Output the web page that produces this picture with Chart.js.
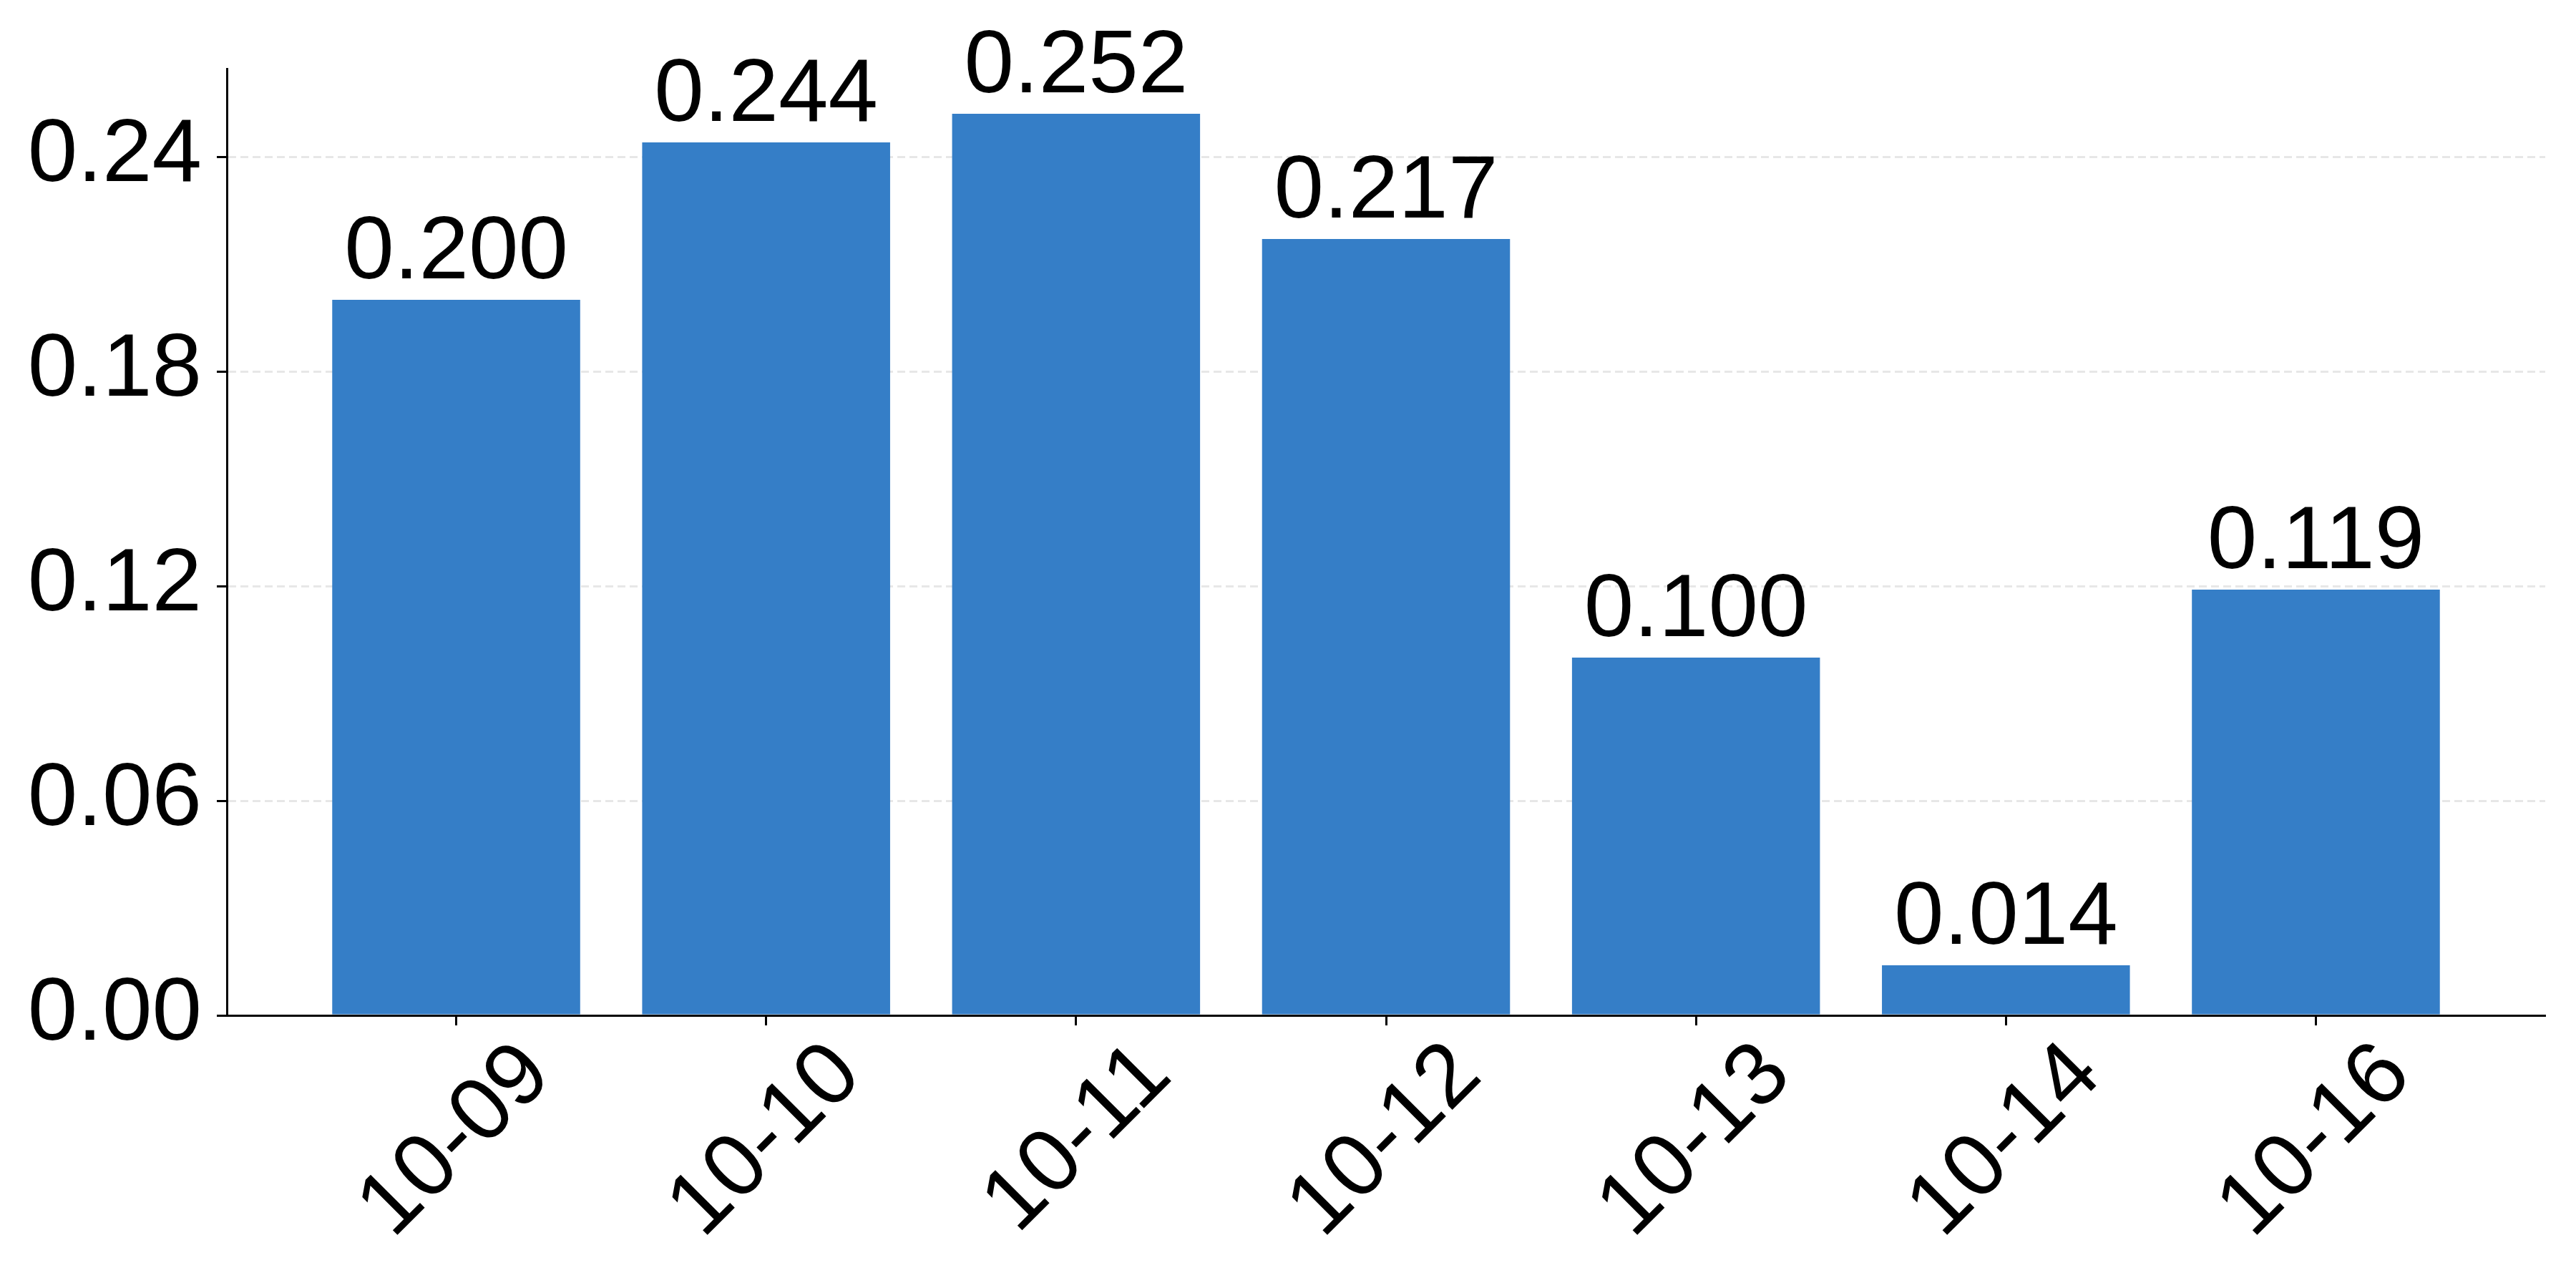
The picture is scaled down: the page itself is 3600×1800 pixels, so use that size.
<!DOCTYPE html>
<html>
<head>
<meta charset="utf-8">
<script src="https://cdn.jsdelivr.net/npm/chart.js@4/dist/chart.umd.min.js"></script>
<style>
html,body{margin:0;padding:0;background:#fff;}
#wrap{width:3600px;height:1800px;}
</style>
</head>
<body>
<div id="wrap"><canvas id="c" width="3600" height="1800"></canvas></div>
<script>
const categories = ['10-09','10-10','10-11','10-12','10-13','10-14','10-16'];
const values = [0.200, 0.244, 0.252, 0.217, 0.100, 0.014, 0.119];
const yTicks = [0, 0.06, 0.12, 0.18, 0.24];

Chart.defaults.font.family = "'Liberation Sans', Arial, sans-serif";
Chart.defaults.color = '#000';

const valueLabels = {
  id: 'valueLabels',
  afterDraw(chart) {
    const ctx = chart.ctx;
    const meta = chart.getDatasetMeta(0);
    ctx.save();
    ctx.font = "125px 'Liberation Sans', Arial, sans-serif";
    ctx.fillStyle = '#000';
    ctx.textAlign = 'center';
    ctx.textBaseline = 'alphabetic';
    meta.data.forEach((el, i) => {
      ctx.fillText(values[i].toFixed(3), el.x, el.y - 30);
    });
    ctx.restore();
  }
};

const yMax = Math.max(...values) * 1.05;
const xMin = -0.4 - 0.05 * (categories.length - 1 + 0.8);
const xMax = categories.length - 1 + 0.4 + 0.05 * (categories.length - 1 + 0.8);

new Chart(document.getElementById('c'), {
  type: 'bar',
  data: {
    datasets: [{
      data: values.map((v, i) => ({x: i, y: v})),
      backgroundColor: '#357EC7',
      borderWidth: 0,
      categoryPercentage: 1.0,
      barPercentage: 0.8
    }]
  },
  options: {
    responsive: false,
    animation: false,
    devicePixelRatio: 1,
    layout: {padding: {top: 96, right: 43, left: 0, bottom: 0}},
    plugins: {legend: {display: false}, tooltip: {enabled: false}},
    scales: {
      x: {
        type: 'linear',
        offset: false,
        min: xMin,
        max: xMax,
        afterBuildTicks: (s) => { s.ticks = categories.map((_, i) => ({value: i})); },
        afterFit: (s) => { s.height = 381; },
        ticks: {
          callback: (v) => categories[v] !== undefined ? categories[v] : '',
          font: {size: 125},
          color: '#000',
          minRotation: 45,
          maxRotation: 45,
          autoSkip: false,
          padding: -4,
          labelOffset: 113
        },
        grid: {
          display: true,
          offset: false,
          drawOnChartArea: false,
          drawTicks: true,
          tickLength: 14,
          tickWidth: 3,
          tickColor: '#000'
        },
        border: {display: true, color: '#000', width: 3}
      },
      y: {
        min: 0,
        max: yMax,
        z: 1,
        afterBuildTicks: (s) => { s.ticks = yTicks.map(v => ({value: v})); },
        afterFit: (s) => { s.width = 317; },
        ticks: {
          callback: (v) => Number(v).toFixed(2),
          font: {size: 125},
          color: '#000',
          padding: 21
        },
        grid: {
          display: true,
          drawOnChartArea: true,
          drawTicks: true,
          tickLength: 14,
          tickWidth: 3,
          tickColor: '#000',
          lineWidth: 3,
          color: (ctx) => (ctx.tick && ctx.tick.value === 0) ? 'rgba(0,0,0,0)' : 'rgba(176,176,176,0.3)'
        },
        border: {display: true, color: '#000', width: 3, dash: [11, 6]}
      }
    }
  },
  plugins: [valueLabels]
});
</script>
</body>
</html>
